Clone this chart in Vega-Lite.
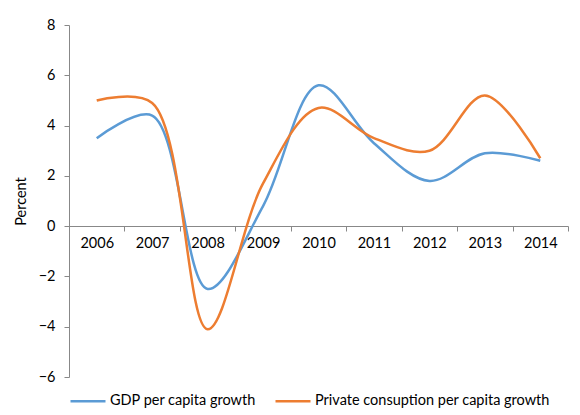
{
  "$schema": "https://vega.github.io/schema/vega-lite/v6.json",
  "width": 499,
  "height": 352,
  "autosize": {"type": "none"},
  "padding": {"left": 69, "top": 25, "right": 12, "bottom": 38},
  "background": "white",
  "config": {"view": {"stroke": null}, "font": "Lato"},
  "data": {"values": [
    {"year": "2006", "series": "GDP per capita growth", "value": 3.5},
    {"year": "2007", "series": "GDP per capita growth", "value": 4.4},
    {"year": "2008", "series": "GDP per capita growth", "value": -2.5},
    {"year": "2009", "series": "GDP per capita growth", "value": 0.8},
    {"year": "2010", "series": "GDP per capita growth", "value": 5.6},
    {"year": "2011", "series": "GDP per capita growth", "value": 3.3},
    {"year": "2012", "series": "GDP per capita growth", "value": 1.8},
    {"year": "2013", "series": "GDP per capita growth", "value": 2.9},
    {"year": "2014", "series": "GDP per capita growth", "value": 2.6},
    {"year": "2006", "series": "Private consuption per capita growth", "value": 5.0},
    {"year": "2007", "series": "Private consuption per capita growth", "value": 4.9},
    {"year": "2008", "series": "Private consuption per capita growth", "value": -4.1},
    {"year": "2009", "series": "Private consuption per capita growth", "value": 1.7},
    {"year": "2010", "series": "Private consuption per capita growth", "value": 4.7},
    {"year": "2011", "series": "Private consuption per capita growth", "value": 3.5},
    {"year": "2012", "series": "Private consuption per capita growth", "value": 3.0},
    {"year": "2013", "series": "Private consuption per capita growth", "value": 5.2},
    {"year": "2014", "series": "Private consuption per capita growth", "value": 2.7}
  ]},
  "mark": {"type": "line", "interpolate": "catmull-rom", "strokeWidth": 2.5},
  "encoding": {
    "x": {
      "field": "year", "type": "ordinal",
      "scale": {"type": "band", "paddingInner": 0, "paddingOuter": 0},
      "axis": {
        "title": null, "labelAngle": 0, "offset": -151, "tickBand": "extent",
        "domainColor": "#888888", "tickColor": "#888888", "tickSize": 5,
        "labelFontSize": 14.5, "labelColor": "#000000", "labelPadding": 5
      }
    },
    "y": {
      "field": "value", "type": "quantitative",
      "scale": {"domain": [-6, 8], "nice": false, "zero": false},
      "axis": {
        "title": "Percent", "values": [-6, -4, -2, 0, 2, 4, 6, 8], "grid": false,
        "domainColor": "#888888", "tickColor": "#888888", "tickSize": 5,
        "labelFontSize": 14.5, "labelColor": "#000000", "labelPadding": 9,
        "titleFontSize": 14.5, "titleFontWeight": "normal", "titleColor": "#000000", "titlePadding": 10
      }
    },
    "color": {
      "field": "series", "type": "nominal",
      "scale": {"domain": ["GDP per capita growth", "Private consuption per capita growth"], "range": ["#5B9BD5", "#ED7D31"]},
      "legend": {
        "title": null, "orient": "bottom", "direction": "horizontal", "offset": 5,
        "symbolType": "stroke", "symbolSize": 1225, "symbolStrokeWidth": 2.5,
        "labelFontSize": 14.5, "labelColor": "#000000", "columnPadding": 14, "labelOffset": 3, "labelLimit": 0
      }
    }
  }
}
